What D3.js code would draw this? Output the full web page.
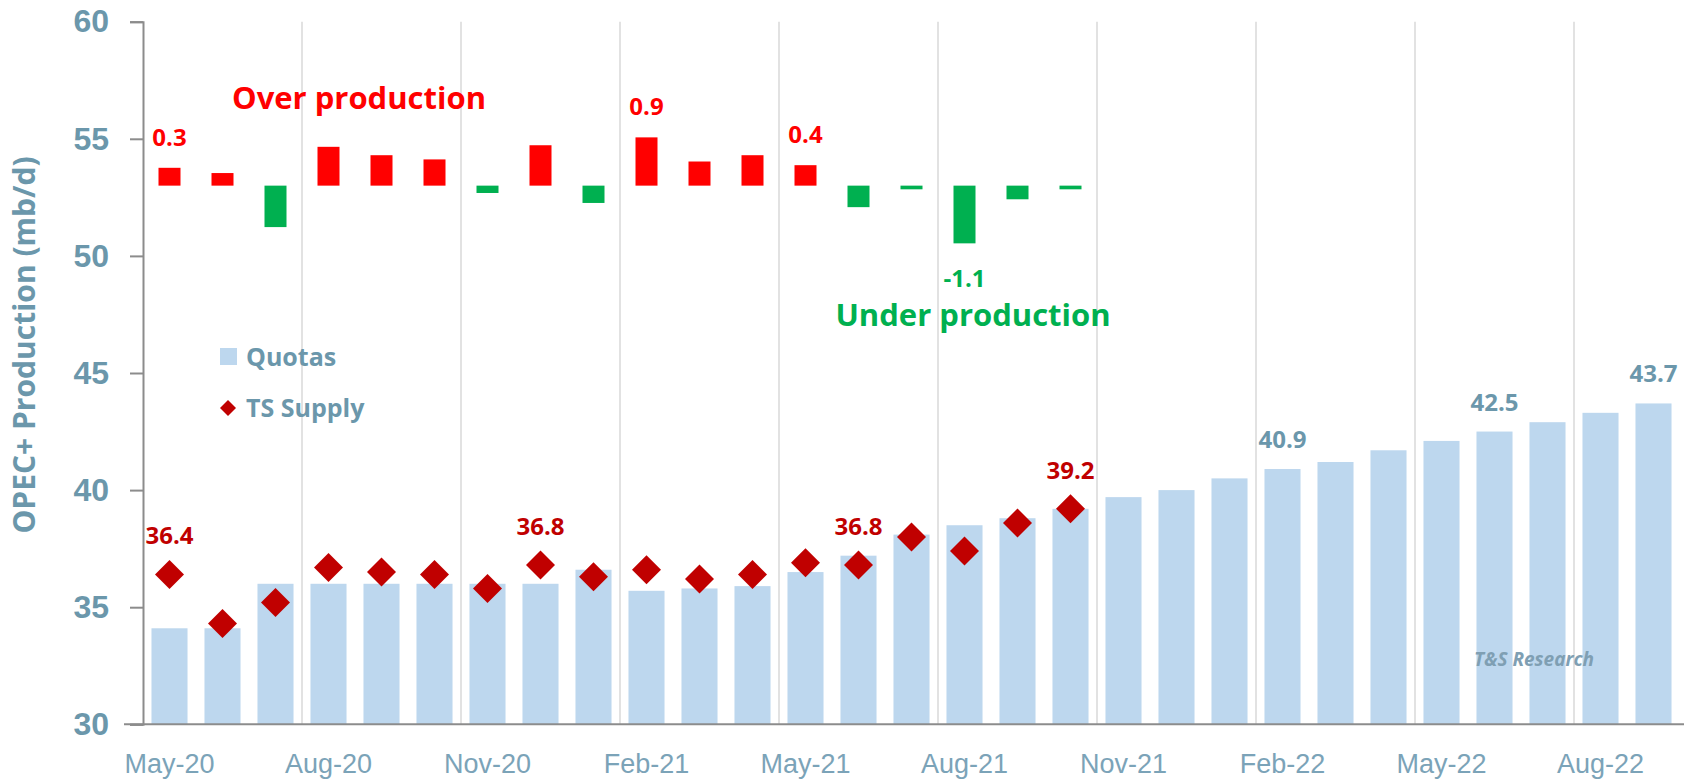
<!DOCTYPE html>
<html>
<head>
<meta charset="utf-8">
<script src="https://cdn.jsdelivr.net/npm/d3@7"></script>
<style>
  body { margin: 0; background: #fff; }
  svg { display: block; font-family: "Open Sans", sans-serif; }
</style>
</head>
<body>
<div id="chart"></div>
<script>
// data (mb/d)
var months = ['May-20','Jun-20','Jul-20','Aug-20','Sep-20','Oct-20','Nov-20','Dec-20',
  'Jan-21','Feb-21','Mar-21','Apr-21','May-21','Jun-21','Jul-21','Aug-21','Sep-21','Oct-21',
  'Nov-21','Dec-21','Jan-22','Feb-22','Mar-22','Apr-22','May-22','Jun-22','Jul-22','Aug-22','Sep-22'];
var quotas = [34.1,34.1,36.0,36.0,36.0,36.0,36.0,36.0,36.6,35.7,35.8,35.9,36.5,37.2,38.1,38.5,38.8,39.2,
  39.7,40.0,40.5,40.9,41.2,41.7,42.1,42.5,42.9,43.3,43.7];
var supply = [36.4,34.3,35.2,36.7,36.5,36.4,35.8,36.8,36.3,36.6,36.2,36.4,36.9,36.8,38.0,37.4,38.6,39.2];
var overUnder = [0.34,0.24,-0.79,0.74,0.58,0.50,-0.14,0.77,-0.33,0.92,0.46,0.58,0.39,-0.41,-0.07,-1.10,-0.26,-0.07];
var yTicks = [30,35,40,45,50,55,60];
var xTickLabels = ['May-20','Aug-20','Nov-20','Feb-21','May-21','Aug-21','Nov-21','Feb-22','May-22','Aug-22'];
var quotaLabels = ['Feb-22','Jun-22','Sep-22'];
var supplyLabels = ['May-20','Dec-20','Jun-21','Oct-21'];
var diffLabels = ['May-20','Feb-21','May-21','Aug-21'];

var W = 1692, H = 782;
var textCol = '#6B97AB';

var svg = d3.select('#chart').append('svg')
  .attr('width', W)
  .attr('height', H);

var x = d3.scaleBand()
  .domain(months)
  .range([143, 1680])
  .paddingInner(0.32)
  .paddingOuter(0.16);

var y = d3.scaleLinear()
  .domain([30, 60])
  .range([724.3, 21.7]);

// over / under production drawn around the 53 line, magnified
var d = d3.scaleLinear()
  .domain([0, 1])
  .range([y(53), y(53 + 2.24)]);

// vertical gridlines every 3 months
var step = x.step();
svg.append('g')
  .selectAll('line')
  .data(months.filter(function(m, i) { return i > 0 && i % 3 === 0; }))
  .enter()
  .append('line')
  .attr('x1', function(m) { return x.range()[0] + months.indexOf(m) * step; })
  .attr('x2', function(m) { return x.range()[0] + months.indexOf(m) * step; })
  .attr('y1', y(60))
  .attr('y2', y(30))
  .style('stroke', '#D9D9D9')
  .style('stroke-width', 1.5);

// quota bars
svg.append('g')
  .selectAll('rect')
  .data(quotas)
  .enter()
  .append('rect')
  .attr('x', function(v, i) { return x(months[i]); })
  .attr('width', x.bandwidth())
  .attr('y', function(v) { return y(v); })
  .attr('height', function(v) { return y(30) - y(v); })
  .style('fill', '#BDD7EE');

// over/under bars
var bw = 22;
svg.append('g')
  .selectAll('rect')
  .data(overUnder)
  .enter()
  .append('rect')
  .attr('x', function(v, i) { return x(months[i]) + x.bandwidth() / 2 - bw / 2; })
  .attr('width', bw)
  .attr('y', function(v) { return Math.min(d(v), d(0)); })
  .attr('height', function(v) { return Math.abs(d(v) - d(0)); })
  .style('fill', function(v) { return v >= 0 ? '#FF0000' : '#00B050'; });

// supply diamonds
var diamond = d3.symbol().type(d3.symbolSquare).size(420);
svg.append('g')
  .selectAll('path')
  .data(supply)
  .enter()
  .append('path')
  .attr('d', diamond)
  .attr('transform', function(v, i) {
    return 'translate(' + (x(months[i]) + x.bandwidth() / 2) + ',' + y(v) + ') rotate(45)';
  })
  .style('fill', '#C00000');

// axes
var yAxis = svg.append('g')
  .attr('transform', 'translate(143,0)')
  .call(d3.axisLeft(y).tickValues(yTicks).tickSize(13).tickPadding(21));
yAxis.select('.domain').style('stroke', '#8C8C8C').style('stroke-width', 2);
yAxis.selectAll('.tick line').style('stroke', '#8C8C8C').style('stroke-width', 2);
yAxis.selectAll('.tick text')
  .style('font-size', '32px')
  .style('font-weight', 'bold')
  .style('fill', textCol);

svg.append('line')
  .attr('x1', 124)
  .attr('x2', 1684)
  .attr('y1', y(30))
  .attr('y2', y(30))
  .style('stroke', '#8C8C8C')
  .style('stroke-width', 2);

var xAxis = svg.append('g')
  .attr('transform', 'translate(0,' + y(30) + ')')
  .call(d3.axisBottom(x).tickValues(xTickLabels).tickSize(0).tickPadding(30));
xAxis.select('.domain').remove();
xAxis.selectAll('.tick text')
  .style('font-size', '27px')
  .style('fill', '#7BA3B8');

// axis title
svg.append('text')
  .attr('transform', 'translate(35,345) rotate(-90)')
  .attr('text-anchor', 'middle')
  .style('font-size', '30px')
  .style('font-weight', 'bold')
  .style('fill', textCol)
  .text('OPEC+ Production (mb/d)');

// value labels
function cx(m) { return x(m) + x.bandwidth() / 2; }

svg.append('g')
  .selectAll('text')
  .data(quotaLabels)
  .enter()
  .append('text')
  .attr('x', cx)
  .attr('y', function(m) { return y(quotas[months.indexOf(m)]) - 21; })
  .attr('text-anchor', 'middle')
  .style('font-size', '24px')
  .style('font-weight', 'bold')
  .style('fill', textCol)
  .text(function(m) { return quotas[months.indexOf(m)].toFixed(1); });

svg.append('g')
  .selectAll('text')
  .data(supplyLabels)
  .enter()
  .append('text')
  .attr('x', cx)
  .attr('y', function(m) { return y(supply[months.indexOf(m)]) - 30; })
  .attr('text-anchor', 'middle')
  .style('font-size', '24px')
  .style('font-weight', 'bold')
  .style('fill', '#C00000')
  .text(function(m) { return supply[months.indexOf(m)].toFixed(1); });

svg.append('g')
  .selectAll('text')
  .data(diffLabels)
  .enter()
  .append('text')
  .attr('x', cx)
  .attr('y', function(m) {
    var v = overUnder[months.indexOf(m)];
    return v >= 0 ? d(v) - 22 : d(v) + 44;
  })
  .attr('text-anchor', 'middle')
  .style('font-size', '24px')
  .style('font-weight', 'bold')
  .style('fill', function(m) { return overUnder[months.indexOf(m)] >= 0 ? '#FF0000' : '#00B050'; })
  .text(function(m) { return overUnder[months.indexOf(m)].toFixed(1); });

// annotations
svg.append('text')
  .attr('x', 359).attr('y', 109)
  .attr('text-anchor', 'middle')
  .style('font-size', '31px').style('font-weight', 'bold')
  .style('fill', '#FF0000')
  .text('Over production');

svg.append('text')
  .attr('x', 973).attr('y', 326)
  .attr('text-anchor', 'middle')
  .style('font-size', '31px').style('font-weight', 'bold')
  .style('fill', '#00B050')
  .text('Under production');

svg.append('text')
  .attr('x', 1534).attr('y', 666)
  .attr('text-anchor', 'middle')
  .style('font-size', '19px').style('font-weight', 'bold').style('font-style', 'italic')
  .style('fill', '#7F9FB3')
  .text('T&S Research');

// legend
var legend = svg.append('g').attr('transform', 'translate(220,0)');
legend.append('rect')
  .attr('x', 0).attr('y', 348)
  .attr('width', 17).attr('height', 17)
  .style('fill', '#BDD7EE');
legend.append('text')
  .attr('x', 26).attr('y', 366)
  .style('font-size', '25px').style('font-weight', 'bold')
  .style('fill', textCol)
  .text('Quotas');
legend.append('path')
  .attr('d', d3.symbol().type(d3.symbolSquare).size(128))
  .attr('transform', 'translate(8,408) rotate(45)')
  .style('fill', '#C00000');
legend.append('text')
  .attr('x', 26).attr('y', 417)
  .style('font-size', '25px').style('font-weight', 'bold')
  .style('fill', textCol)
  .text('TS Supply');
</script>
</body>
</html>
